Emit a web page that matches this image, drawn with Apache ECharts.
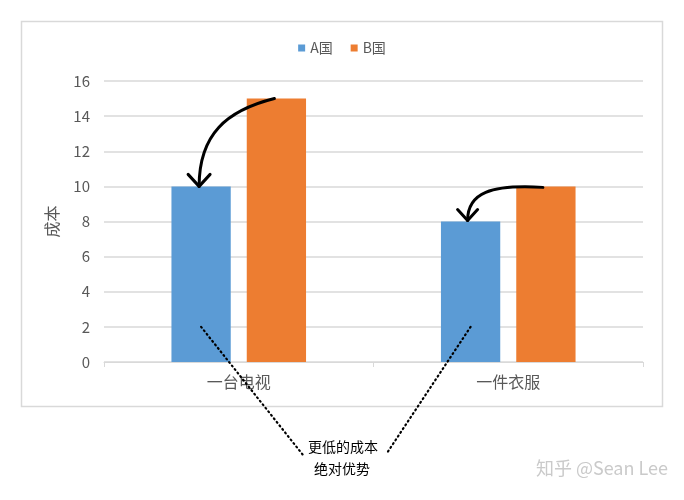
<!DOCTYPE html>
<html>
<head>
    <meta charset="UTF-8">
    <title>成本对比</title>
    <style>
        * {
            margin: 0;
            padding: 0
        }

        #chart {
            width: 684px;
            height: 500px;
            background: #fff;
        }
    </style>
</head>
<body>
<div id="chart"></div>
<script type="text/javascript" src="https://cdn.jsdelivr.net/npm/echarts@6/dist/echarts.min.js"></script>
<script type="text/javascript">
    // 数据
    var categories = ['一台电视', '一件衣服'];
    var seriesNames = ['A国', 'B国'];
    var valuesA = [10, 8];
    var valuesB = [15, 10];
    var noteLines = ['更低的成本', '绝对优势'];

    var FONT = '"Noto Sans CJK SC", "Noto Sans", sans-serif';
    var GRAY = '#595959';

    var myChart = echarts.init(document.getElementById('chart'));

    var option = {
        animation: false,
        color: ['#5b9bd5', '#ed7d31'],
        textStyle: {fontFamily: FONT},
        legend: {
            data: seriesNames,
            top: 36,
            left: 'center',
            icon: 'rect',
            itemWidth: 7,
            itemHeight: 7,
            itemGap: 18,
            textStyle: {color: GRAY, fontSize: 14, fontFamily: FONT}
        },
        grid: {
            left: 104,
            right: 41,
            top: 81,
            bottom: 138
        },
        xAxis: {
            type: 'category',
            data: categories,
            axisLine: {lineStyle: {color: '#d9d9d9', width: 1}},
            axisTick: {show: true, length: 5, lineStyle: {color: '#d9d9d9'}},
            axisLabel: {color: GRAY, fontSize: 16, margin: 12, fontFamily: FONT}
        },
        yAxis: {
            type: 'value',
            min: 0,
            max: 16,
            interval: 2,
            name: '成本',
            nameLocation: 'middle',
            nameRotate: 90,
            nameGap: 44,
            nameTextStyle: {color: GRAY, fontSize: 16, fontFamily: FONT},
            axisLine: {show: false},
            axisTick: {show: false},
            axisLabel: {color: GRAY, fontSize: 15, margin: 14, fontFamily: FONT},
            splitLine: {lineStyle: {color: '#d9d9d9', width: 1.5}}
        },
        series: [
            {
                name: seriesNames[0],
                type: 'bar',
                data: valuesA,
                barWidth: '22%',
                barGap: '27%'
            },
            {
                name: seriesNames[1],
                type: 'bar',
                data: valuesB,
                barWidth: '22%',
                barGap: '27%'
            }
        ]
    };

    myChart.setOption(option);

    //取柱子顶部中心的像素坐标
    function barTop(si, i) {
        var l = myChart.getModel().getSeriesByIndex(si).getData().getItemLayout(i);
        return [l.x + l.width / 2, Math.min(l.y, l.y + l.height)];
    }

    function arrow(s, c1, c2, e, head) {
        return [{
            type: 'bezierCurve',
            shape: {x1: s[0], y1: s[1], cpx1: c1[0], cpy1: c1[1], cpx2: c2[0], cpy2: c2[1], x2: e[0], y2: e[1]},
            style: {stroke: '#000', lineWidth: 3, fill: null, lineCap: 'round'},
            z: 100
        }, {
            type: 'polyline',
            shape: {points: [[e[0] - head, e[1] - head - 1], e, [e[0] + head, e[1] - head - 1]]},
            style: {stroke: '#000', lineWidth: 3, fill: null, lineCap: 'round', lineJoin: 'round'},
            z: 100
        }];
    }

    var b0 = barTop(1, 0), a0 = barTop(0, 0);
    var b1 = barTop(1, 1), a1 = barTop(0, 1);
    var y2 = myChart.convertToPixel({yAxisIndex: 0}, 2);

    var s1 = [b0[0] - 2, b0[1]], e1 = [a0[0] - 2, a0[1]];
    var s2 = [b1[0] - 3, b1[1] + 1], e2 = [a1[0] - 3, a1[1] - 1];

    var elements = [{
        //外框
        type: 'rect',
        shape: {x: 21.5, y: 21.5, width: 641, height: 385},
        style: {stroke: '#d9d9d9', lineWidth: 1.5, fill: null},
        silent: true,
        z: -1
    }];
    elements = elements.concat(arrow(s1, [s1[0] - 48, s1[1] + 12], [e1[0], e1[1] - 52], e1, 11));
    elements = elements.concat(arrow(s2, [s2[0] - 52, s2[1] - 3], [e2[0], e2[1] - 28], e2, 10));

    //点线指向说明文字
    var dotStyle = {stroke: '#000', lineWidth: 2.2, lineDash: [1, 3.5], lineCap: 'round'};
    elements.push({
        type: 'line',
        shape: {x1: a0[0], y1: y2, x2: 303, y2: 455},
        style: dotStyle,
        z: 100
    });
    elements.push({
        type: 'line',
        shape: {x1: a1[0], y1: y2, x2: 387, y2: 453},
        style: dotStyle,
        z: 100
    });
    elements.push({
        type: 'text',
        x: 343,
        y: 447,
        style: {text: noteLines[0], fill: '#000', font: '14px ' + FONT, align: 'center', verticalAlign: 'middle'},
        z: 100
    });
    elements.push({
        type: 'text',
        x: 342,
        y: 469,
        style: {text: noteLines[1], fill: '#000', font: '14px ' + FONT, align: 'center', verticalAlign: 'middle'},
        z: 100
    });
    //水印
    elements.push({
        type: 'text',
        x: 668,
        y: 468,
        style: {text: '知乎 @Sean Lee', fill: '#cacaca', font: '18px ' + FONT, align: 'right', verticalAlign: 'middle'},
        z: 100
    });

    myChart.setOption({graphic: {elements: elements}});
</script>
</body>
</html>
